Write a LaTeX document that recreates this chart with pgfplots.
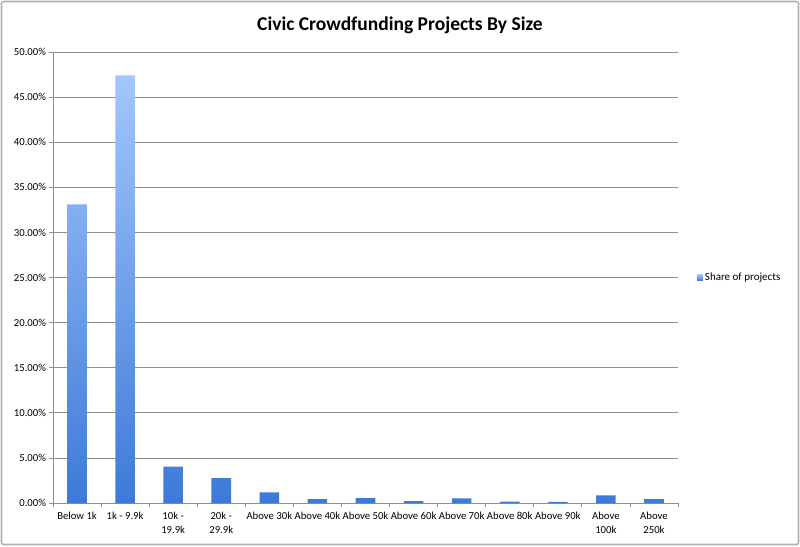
\documentclass[border=0pt]{standalone}
\usepackage{pgfplots}
\pgfplotsset{compat=1.18}
\usepackage{fontspec}
\setmainfont{Carlito}
\definecolor{bartop}{HTML}{A3C6FD}
\definecolor{barbot}{HTML}{3D7AD7}
\definecolor{gridc}{HTML}{8E8E8E}
\begin{document}
\begin{tikzpicture}[x=1pt,y=1pt]
\path[use as bounding box] (0,0) rectangle (800,546);
\draw[line width=1.6pt, draw=black!30, rounded corners=2pt] (1.5,1.5) rectangle (798.5,544.5);
\node[font=\fontsize{19.5}{22}\selectfont\bfseries] at (400,521) {Civic Crowdfunding Projects By Size};
\begin{axis}[
  at={(53pt,43pt)}, anchor=south west,
  scale only axis, width=625pt, height=451pt,
  xmin=-0.5, xmax=12.5, ymin=0, ymax=50,
  axis x line*=bottom, axis y line*=left,
  axis line style={gridc, line width=0.8pt},
  ymajorgrids, grid style={gridc, line width=0.8pt},
  ytick={0,5,...,50},
  yticklabel={\pgfmathprintnumber[fixed,fixed zerofill,precision=2]{\tick}\%},
  /pgf/number format/assume math mode=true,
  xtick={0,...,12},
  xticklabels={Below 1k,1k - 9.9k,{10k -\\19.9k},{20k -\\29.9k},Above 30k,Above 40k,Above 50k,Above 60k,Above 70k,Above 80k,Above 90k,{Above\\100k},{Above\\250k}},
  x tick label style={align=center, font=\fontsize{10.7}{14}\selectfont, yshift=-2pt},
  y tick label style={font=\fontsize{10.7}{12}\selectfont},
  major x tick style={draw=none},
  minor xtick={-0.5,0.5,...,12.5},
  minor x tick style={gridc, line width=0.8pt},
  major y tick style={gridc, line width=0.8pt},
  tick align=outside, major tick length=3.5pt, minor tick length=3.5pt,
  legend style={at={(1.03,0.5)}, anchor=west, draw=none, fill=none,
    font=\fontsize{11}{13}\selectfont, inner sep=0pt},
  legend cell align=left,
  legend image code/.code={\fill[bottom color=barbot, top color=bartop] (0pt,-3pt) rectangle (6pt,3pt);},
]
\addplot[ybar, bar width=19.6pt, draw=none, top color=bartop, bottom color=barbot]
coordinates {
(0,33.1) (1,47.4) (2,4.03) (3,2.75) (4,1.18) (5,0.44) (6,0.55) (7,0.20) (8,0.52) (9,0.14) (10,0.12) (11,0.85) (12,0.44)
};
\addlegendentry{Share of projects}
\end{axis}
\end{tikzpicture}
\end{document}
